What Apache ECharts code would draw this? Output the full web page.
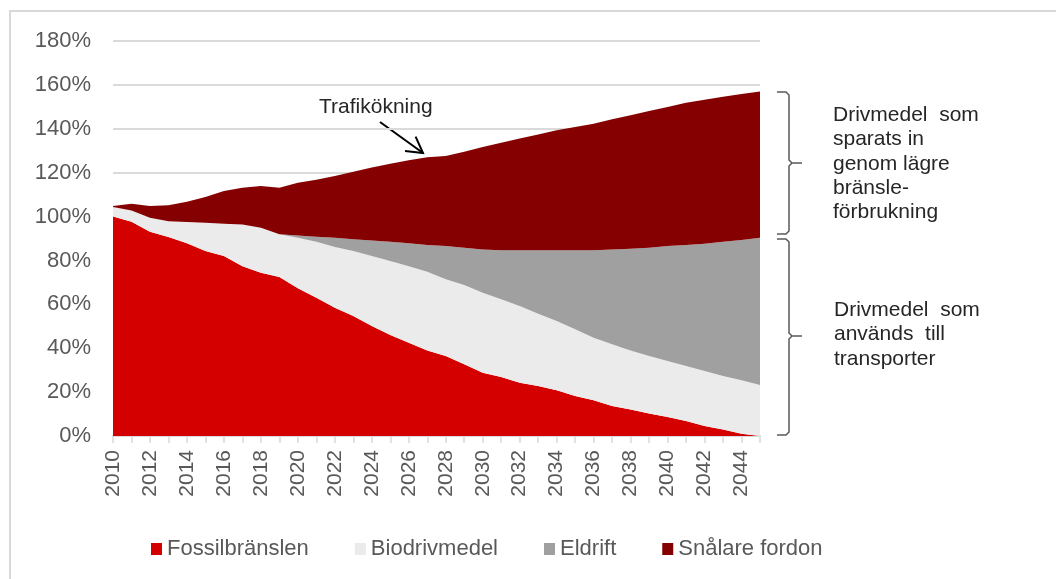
<!DOCTYPE html>
<html>
<head>
<meta charset="utf-8">
<script src="https://cdn.jsdelivr.net/npm/echarts@6/dist/echarts.min.js"></script>
<style>
  html, body { margin: 0; padding: 0; background: #fff; }
  #chart { width: 1056px; height: 579px; }
</style>
</head>
<body>
<div id="chart"></div>
<script>
// år 2010-2045
const years = [];
for (let y = 2010; y <= 2045; y += 1) years.push(String(y));

// andel (%) av 2010 års drivmedelsanvändning, staplat
const fossil = [100, 97.6, 93.1, 90.7, 87.8, 84.3, 82, 77.4, 74.4, 72.4, 67.3, 63, 58.5, 54.7, 50.1, 46, 42.5, 39,
  36.4, 32.7, 28.8, 26.9, 24.3, 22.8, 20.8, 18.2, 16.3, 13.7, 12.1, 10.2, 8.7, 6.8, 4.6, 3, 1, 0];
const bio = [4.3, 5.2, 6.4, 7.2, 9.7, 12.9, 14.7, 19.0, 20.5, 19.5, 23.0, 25.5, 27.6, 29.6, 31.9, 33.7, 34.9, 35.9,
  35.0, 36.1, 36.5, 35.4, 34.9, 32.9, 31.6, 30.4, 28.5, 28.1, 26.9, 26.2, 25.5, 25.1, 25.0, 24.3, 24.4, 23.2];
const eldrift = [0, 0, 0, 0, 0, 0, 0, 0, 0, 0, 1.1, 2.3, 4.2, 5.4, 7.1, 8.8, 10.4, 12.1,
  15.2, 17.0, 19.7, 22.4, 25.4, 28.9, 32.2, 36.0, 39.9, 43.2, 46.3, 49.4, 52.4, 55.1, 58.0, 61.2, 63.9, 67.1];
const snalare = [0.5, 3.0, 5.3, 7.3, 9.2, 11.7, 14.9, 16.7, 19.0, 21.2, 24.0, 26.0, 28.2, 30.7, 33.2, 35.6, 37.9, 40.0,
  41.0, 43.7, 46.7, 48.9, 51.0, 52.8, 54.7, 56.2, 57.6, 59.3, 60.9, 62.3, 63.3, 64.9, 65.6, 66.1, 66.5, 66.7];

const seriesNames = ["Fossilbränslen", "Biodrivmedel", "Eldrift", "Snålare fordon"];
const colors = ["#d40000", "#ebebeb", "#a0a0a0", "#850000"];
const textGray = "#595959";
const textDark = "#262626";
const font = "Arial, 'Liberation Sans', sans-serif";

function areaSeries(name, data, color) {
  return {
    name,
    type: "line",
    stack: "total",
    data,
    symbol: "none",
    smooth: false,
    lineStyle: { width: 0 },
    itemStyle: { color },
    areaStyle: { color, opacity: 1 },
    emphasis: { disabled: true },
  };
}

const chart = echarts.init(document.getElementById("chart"));
chart.setOption({
  animation: false,
  textStyle: { fontFamily: font },
  grid: { left: 113, right: 296, top: 41, bottom: 143 },
  legend: {
    left: 146,
    top: 533,
    icon: "rect",
    itemWidth: 11,
    itemHeight: 12,
    itemGap: 46,
    textStyle: { color: textGray, fontSize: 22, fontFamily: font },
    data: seriesNames,
  },
  xAxis: {
    type: "category",
    data: years,
    boundaryGap: false,
    axisLine: { lineStyle: { color: "#d9d9d9", width: 2 } },
    axisTick: { interval: 0, length: 7, lineStyle: { color: "#d9d9d9", width: 1.5 } },
    axisLabel: { interval: 1, rotate: 90, margin: 14, color: textGray, fontSize: 21 },
  },
  yAxis: {
    type: "value",
    min: 0,
    max: 180,
    interval: 20,
    axisLine: { show: false },
    axisTick: { show: false },
    axisLabel: { formatter: "{value}%", margin: 22, color: textGray, fontSize: 22 },
    splitLine: { lineStyle: { color: "#dadada", width: 2 } },
  },
  series: [
    areaSeries(seriesNames[0], fossil, colors[0]),
    areaSeries(seriesNames[1], bio, colors[1]),
    areaSeries(seriesNames[2], eldrift, colors[2]),
    areaSeries(seriesNames[3], snalare, colors[3]),
  ],
  graphic: [
    // ram runt diagrammet
    {
      type: "rect",
      shape: { x: 10, y: 11, width: 1100, height: 620 },
      style: { fill: "none", stroke: "#d9d9d9", lineWidth: 2 },
      silent: true,
    },
    {
      type: "text",
      left: 319,
      top: 97,
      style: { text: "Trafikökning", fill: textDark, fontSize: 21, fontFamily: font },
    },
    {
      type: "line",
      shape: { x1: 380, y1: 122, x2: 423, y2: 153 },
      style: { stroke: "#000", lineWidth: 2 },
    },
    {
      type: "polyline",
      shape: { points: [[415.6, 136.6], [423, 153], [405, 151]] },
      style: { stroke: "#000", lineWidth: 2, fill: "none" },
    },
    // klammer: sparade drivmedel
    {
      type: "polyline",
      shape: {
        points: [[777, 92], [786, 92], [789, 95], [789, 160], [792, 163], [802, 163],
          [792, 163], [789, 166], [789, 231], [786, 234], [777, 234]],
      },
      style: { stroke: textGray, lineWidth: 1.5, fill: "none" },
    },
    // klammer: använda drivmedel
    {
      type: "polyline",
      shape: {
        points: [[777, 239], [786, 239], [789, 242], [789, 333], [792, 336], [802, 336],
          [792, 336], [789, 339], [789, 432], [786, 435], [777, 435]],
      },
      style: { stroke: textGray, lineWidth: 1.5, fill: "none" },
    },
    {
      type: "text",
      left: 833,
      top: 103,
      style: {
        text: "Drivmedel  som\nsparats in\ngenom lägre\nbränsle-\nförbrukning",
        fill: textDark,
        fontSize: 21,
        lineHeight: 24.3,
        fontFamily: font,
      },
    },
    {
      type: "text",
      left: 834,
      top: 298,
      style: {
        text: "Drivmedel  som\nanvänds  till\ntransporter",
        fill: textDark,
        fontSize: 21,
        lineHeight: 24.3,
        fontFamily: font,
      },
    },
  ],
});
</script>
</body>
</html>
